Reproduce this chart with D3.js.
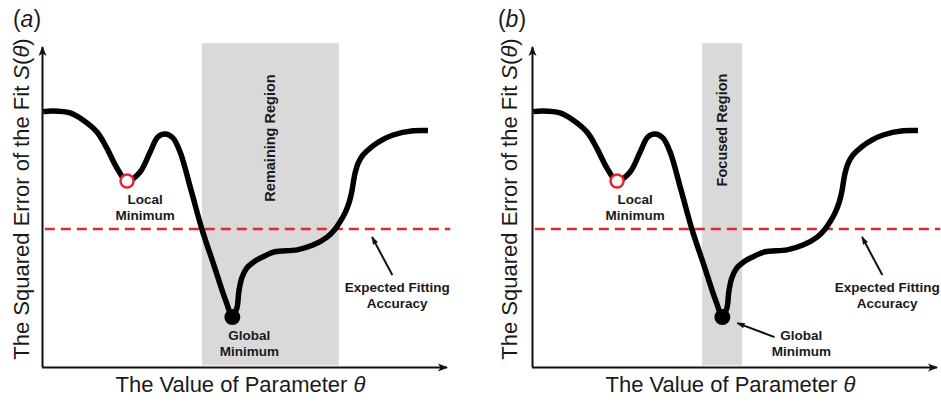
<!DOCTYPE html>
<html>
<head>
<meta charset="utf-8">
<script src="https://cdn.jsdelivr.net/npm/d3@7"></script>
<style>
  html, body { margin: 0; padding: 0; background: #fff; }
  svg { display: block; font-family: "Liberation Sans", Arial, sans-serif; }
</style>
</head>
<body>
<svg id="chart" width="941" height="402"></svg>
<script>
// Sampled shape of the objective S(θ) along the parameter axis (arbitrary units 0–100)
const thetaValues = [0.3, 2.7, 6.9, 10.1, 13.6, 16.0, 18.5, 21.0, 24.2, 26.7, 28.6, 30.4, 32.3,
  34.1, 36.8, 39.5, 42.5, 45.4, 47.0, 48.1, 48.6, 49.3, 50.5, 52.6, 55.1, 57.5, 63.0, 66.9,
  70.4, 72.3, 73.6, 74.8, 75.8, 76.5, 76.9, 77.3, 78.1, 79.3, 81.4, 83.9, 86.7, 91.6, 95.3];
const errorValues = [79.8, 80.0, 79.4, 77.2, 73.4, 68.4, 62.2, 58.1, 60.9, 67.2, 71.9, 72.8, 71.6,
  67.2, 55.3, 43.0, 31.6, 20.6, 15.9, 18.3, 23.5, 27.7, 30.8, 33.1, 34.8, 36.0, 36.6, 38.1,
  40.6, 43.0, 45.4, 48.1, 51.3, 54.8, 57.9, 60.6, 63.8, 66.3, 68.8, 70.9, 72.5, 73.8, 73.9];

const localMinimum = { theta: 21.0, s: 58.1 };
const globalMinimum = { theta: 47.0, s: 15.6 };
const accuracyLevel = 43.1;

// Shaded search intervals for the two panels
const panelTags = ["a", "b"];
const regionLabels = ["Remaining Region", "Focused Region"];
const regionStart = [39.5, 42.0];
const regionEnd = [73.3, 51.9];

const svg = d3.select("#chart");
const plotW = 405, plotH = 320, plotTop = 47;
const panelLeft = [42, 532];

const x = d3.scaleLinear().domain([0, 100]).range([0, plotW]);
const y = d3.scaleLinear().domain([0, 100]).range([plotH, 0]);

const defs = svg.append("defs");
defs.append("marker").attr("id", "axisHead")
  .attr("viewBox", "-1 -5 12 10").attr("refX", 9).attr("refY", 0)
  .attr("markerWidth", 12).attr("markerHeight", 10).attr("markerUnits", "userSpaceOnUse")
  .attr("orient", "auto")
  .append("path").attr("d", "M0,-4 L10,0 L0,4 L2.5,0 Z").attr("fill", "#111");
defs.append("marker").attr("id", "noteHead")
  .attr("viewBox", "-1 -5 12 10").attr("refX", 9).attr("refY", 0)
  .attr("markerWidth", 10).attr("markerHeight", 8).attr("markerUnits", "userSpaceOnUse")
  .attr("orient", "auto")
  .append("path").attr("d", "M0,-3.5 L10,0 L0,3.5 Z").attr("fill", "#111");

const curve = d3.line()
  .x((d, i) => x(thetaValues[i]))
  .y((d, i) => y(errorValues[i]))
  .curve(d3.curveCatmullRom.alpha(0.5));

panelTags.forEach((tag, p) => {
  const g = svg.append("g").attr("transform", `translate(${panelLeft[p]},${plotTop})`);

  // search region
  g.append("rect")
    .attr("x", x(regionStart[p])).attr("y", y(101.2))
    .attr("width", x(regionEnd[p]) - x(regionStart[p]))
    .attr("height", y(0.5) - y(101.2))
    .attr("fill", "#d9d9d9");

  g.append("text")
    .attr("transform", `translate(${x((regionStart[p] + regionEnd[p]) / 2) + 5},${p === 0 ? 91 : 83}) rotate(-90)`)
    .attr("text-anchor", "middle")
    .attr("font-size", 14.5).attr("font-weight", "bold").attr("fill", "#1a1a1a")
    .text(regionLabels[p]);

  // axes without ticks, ending in arrowheads
  const xAxis = g.append("g").attr("transform", `translate(0,${plotH})`)
    .call(d3.axisBottom(x).tickValues([]).tickSizeOuter(0));
  const yAxis = g.append("g")
    .call(d3.axisLeft(y).tickValues([]).tickSizeOuter(0));
  [xAxis, yAxis].forEach(a => a.select(".domain")
    .attr("stroke", "#111").attr("stroke-width", 2));
  xAxis.select(".domain").attr("d", `M0,0.5H${plotW}`).attr("marker-end", "url(#axisHead)");
  yAxis.select(".domain").attr("d", `M0.5,${plotH}V0`).attr("marker-end", "url(#axisHead)");

  // expected fitting accuracy
  g.append("line")
    .attr("x1", x(0.7)).attr("x2", x(100.8))
    .attr("y1", y(accuracyLevel)).attr("y2", y(accuracyLevel))
    .attr("stroke", "#e8242c").attr("stroke-width", 2.5)
    .attr("stroke-dasharray", "10,6");

  // objective curve
  g.append("path")
    .datum(thetaValues)
    .attr("d", curve)
    .attr("fill", "none").attr("stroke", "#000")
    .attr("stroke-width", 5.5).attr("stroke-linecap", "butt").attr("stroke-linejoin", "round");

  // minima markers
  g.append("circle")
    .attr("cx", x(localMinimum.theta)).attr("cy", y(localMinimum.s))
    .attr("r", 6.5).attr("fill", "#fff").attr("stroke", "#e8242c").attr("stroke-width", 2.5);
  g.append("circle")
    .attr("cx", x(globalMinimum.theta)).attr("cy", y(globalMinimum.s))
    .attr("r", 8).attr("fill", "#000");

  const note = (cx, cy, lines) => {
    const t = g.append("text").attr("text-anchor", "middle")
      .attr("font-size", 13.5).attr("font-weight", "bold").attr("fill", "#1a1a1a");
    lines.forEach((s, i) => t.append("tspan").attr("x", cx).attr("y", cy + i * 16).text(s));
  };

  note(x(localMinimum.theta) + 18, y(localMinimum.s) + 23, ["Local", "Minimum"]);
  note(x(87.7), y(accuracyLevel) + 63, ["Expected Fitting", "Accuracy"]);

  const arrow = (x1, y1, x2, y2) => g.append("line")
    .attr("x1", x1).attr("y1", y1).attr("x2", x2).attr("y2", y2)
    .attr("stroke", "#111").attr("stroke-width", 2).attr("marker-end", "url(#noteHead)");

  arrow(x(86.5), y(accuracyLevel) + 46, x(81.5), y(accuracyLevel) + 8);

  if (p === 0) {
    note(x(globalMinimum.theta) + 17, y(globalMinimum.s) + 23, ["Global", "Minimum"]);
  } else {
    note(x(66.5), y(globalMinimum.s) + 23, ["Global", "Minimum"]);
    arrow(x(59.9), y(globalMinimum.s) + 20, x(50.7), y(globalMinimum.s) + 6);
  }

  // axis titles
  const yt = g.append("text")
    .attr("transform", `translate(${p === 0 ? -13 : -15},${152}) rotate(-90)`)
    .attr("text-anchor", "middle").attr("font-size", 22).attr("fill", "#1a1a1a");
  yt.append("tspan").text("The Squared Error of the Fit ");
  yt.append("tspan").attr("font-style", "italic").text("S");
  yt.append("tspan").text("(");
  yt.append("tspan").attr("font-style", "italic").text("θ");
  yt.append("tspan").text(")");

  const xt = g.append("text")
    .attr("x", x(49)).attr("y", plotH + 25)
    .attr("text-anchor", "middle").attr("font-size", 22).attr("fill", "#1a1a1a");
  xt.append("tspan").text("The Value of Parameter ");
  xt.append("tspan").attr("font-style", "italic").text("θ");

  // panel tag
  const pt = g.append("text").attr("x", p === 0 ? -15 : -20).attr("y", -20)
    .attr("text-anchor", "middle").attr("font-size", 23).attr("fill", "#1a1a1a");
  pt.append("tspan").text("(");
  pt.append("tspan").attr("font-style", "italic").text(tag);
  pt.append("tspan").text(")");
});
</script>
</body>
</html>
